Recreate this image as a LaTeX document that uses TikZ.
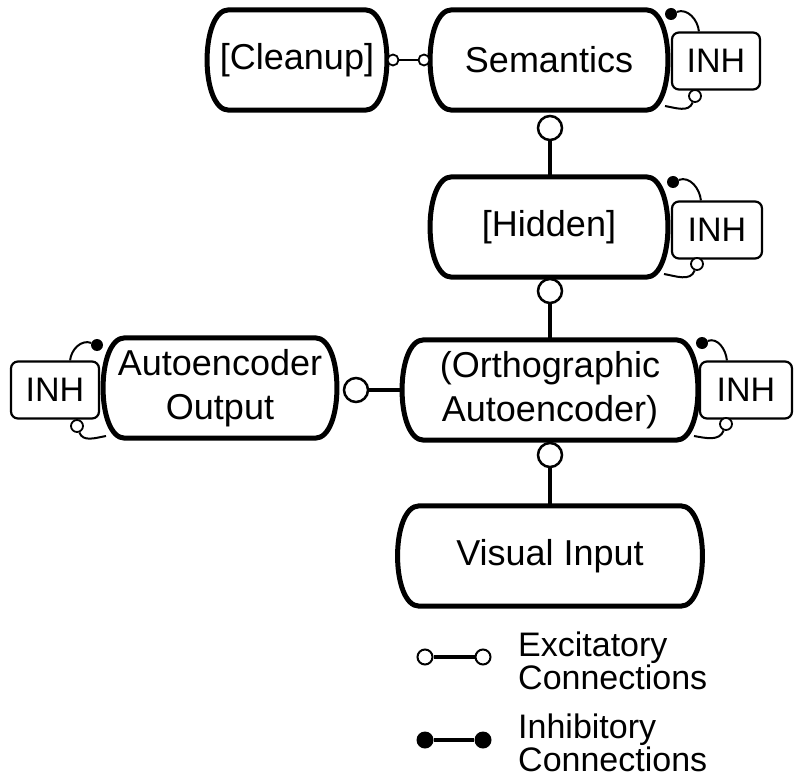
\documentclass[tikz,border=0pt]{standalone}
\usepackage{fontspec}
\setmainfont{Liberation Sans}
\usetikzlibrary{calc}
\newcommand{\bulgebox}[1]{%
 \draw[unitline] ($(#1.north west)+(22,0)$) -- ($(#1.north east)+(-22,0)$)
   .. controls ($(#1.north east)+(7,0)$) and ($(#1.south east)+(7,0)$) .. ($(#1.south east)+(-22,0)$)
   -- ($(#1.south west)+(22,0)$)
   .. controls ($(#1.south west)+(-7,0)$) and ($(#1.north west)+(-7,0)$) .. cycle;}
\begin{document}
\begin{tikzpicture}[x=1pt,y=1pt,
 unit/.style={align=center, font=\fontsize{36}{44}\selectfont, inner sep=0pt, minimum height=100pt},
 unitline/.style={draw, line width=5pt, line join=round, fill=white},
 inhbox/.style={draw, line width=2.2pt, rounded corners=7pt, fill=white, minimum width=88pt, minimum height=57pt, font=\fontsize{34}{40}\selectfont, inner sep=0pt},
 exc/.style={circle, draw, line width=2.5pt, fill=white, minimum size=24pt, inner sep=0pt},
 excs/.style={circle, draw, line width=1.8pt, fill=white, minimum size=11pt, inner sep=0pt},
 inhdot/.style={circle, fill=black, minimum size=12pt, inner sep=0pt},
 stem/.style={line width=4.5pt},
 selfloop/.style={line width=2pt},
 legendtext/.style={align=left, font=\fontsize{34}{30}\selectfont, inner sep=0pt, anchor=west},
]
\useasboundingbox (0,0) rectangle (800,-778);

% INH boxes
\node[inhbox] (inhS) at (716,-61) {INH};
\node[inhbox, minimum width=90pt] (inhH) at (717,-230) {INH};
\node[inhbox, minimum width=92pt] (inhO) at (746,-390) {INH};
\node[inhbox] (inhA) at (55,-390) {INH};

% main units (outline drawn with bulging sides, text on top)
\path (297,-60) node[unit, minimum width=180pt] (cleanup) {}
      (549,-60) node[unit, minimum width=238pt] (sem) {}
      (549,-227) node[unit, minimum width=238pt] (hid) {}
      (550,-390) node[unit, minimum width=296pt] (orth) {}
      (220,-388) node[unit, minimum width=234pt] (auto) {}
      (550,-556) node[unit, minimum width=305pt] (vis) {};
\bulgebox{cleanup}\bulgebox{sem}\bulgebox{hid}\bulgebox{orth}\bulgebox{auto}\bulgebox{vis}
\node[unit] at (cleanup) {[Cleanup]};
\node[unit] at (sem) {Semantics};
\node[unit] at (hid) {[Hidden]};
\node[unit] at (orth) {(Orthographic\\Autoencoder)};
\node[unit] at (auto) {Autoencoder\\Output};
\node[unit] at (vis) {Visual Input};

% excitatory connections between units
\node[excs] (e1) at (393,-60) {};
\node[excs] (e2) at (424,-60) {};
\draw[line width=2pt] (e1) -- (e2);

\node[exc] (c1) at (550,-128) {};
\draw[stem] (c1) -- (c1 |- hid.north);
\node[exc] (c2) at (550,-291) {};
\draw[stem] (c2) -- (c2 |- orth.north);
\node[exc] (c3) at (550,-455) {};
\draw[stem] (c3) -- (c3 |- vis.north);
\node[exc] (c4) at (356,-390) {};
\draw[stem] (c4) -- (c4 -| orth.west);

% self loops through INH
\coordinate (tS) at ($(inhS.north west)+(28,0)$);
\coordinate (bS) at (665,-106);
\node[inhdot] (dS) at (671,-14) {};
\node[excs, minimum size=12pt] (oS) at (695,-96) {};
\draw[selfloop] (dS) to[out=20,in=95] (tS);
\draw[selfloop] (oS) to[out=-110,in=-10] (bS);

\coordinate (tH) at ($(inhH.north west)+(30,0)$);
\coordinate (bH) at (664,-274);
\node[inhdot] (dH) at (673,-182) {};
\node[excs, minimum size=12pt] (oH) at (697,-264) {};
\draw[selfloop] (dH) to[out=20,in=95] (tH);
\draw[selfloop] (oH) to[out=-110,in=-10] (bH);

\coordinate (tO) at ($(inhO.north west)+(28,0)$);
\coordinate (bO) at (694,-436);
\node[inhdot] (dO) at (702,-343) {};
\node[excs, minimum size=12pt] (oO) at (726,-424) {};
\draw[selfloop] (dO) to[out=20,in=95] (tO);
\draw[selfloop] (oO) to[out=-110,in=-10] (bO);

\coordinate (tA) at ($(inhA.north east)+(-30,0)$);
\coordinate (bA) at (106,-436);
\node[inhdot] (dA) at (97,-345) {};
\node[excs, minimum size=12pt] (oA) at (77,-426) {};
\draw[selfloop] (dA) to[out=160,in=85] (tA);
\draw[selfloop] (oA) to[out=-70,in=190] (bA);

% legend
\node[excs, minimum size=15pt, line width=2pt] (le1) at (425,-657) {};
\node[excs, minimum size=15pt, line width=2pt] (le2) at (483,-657) {};
\draw[line width=4pt] (le1) -- (le2);
\node[inhdot, minimum size=17pt] (li1) at (425,-740) {};
\node[inhdot, minimum size=17pt] (li2) at (483,-740) {};
\draw[line width=4pt] (li1) -- (li2);
\node[legendtext] (lt1) at (518,-661) {Excitatory\\Connections};
\node[legendtext] (lt2) at (518,-743) {Inhibitory\\Connections};
\end{tikzpicture}
\end{document}
